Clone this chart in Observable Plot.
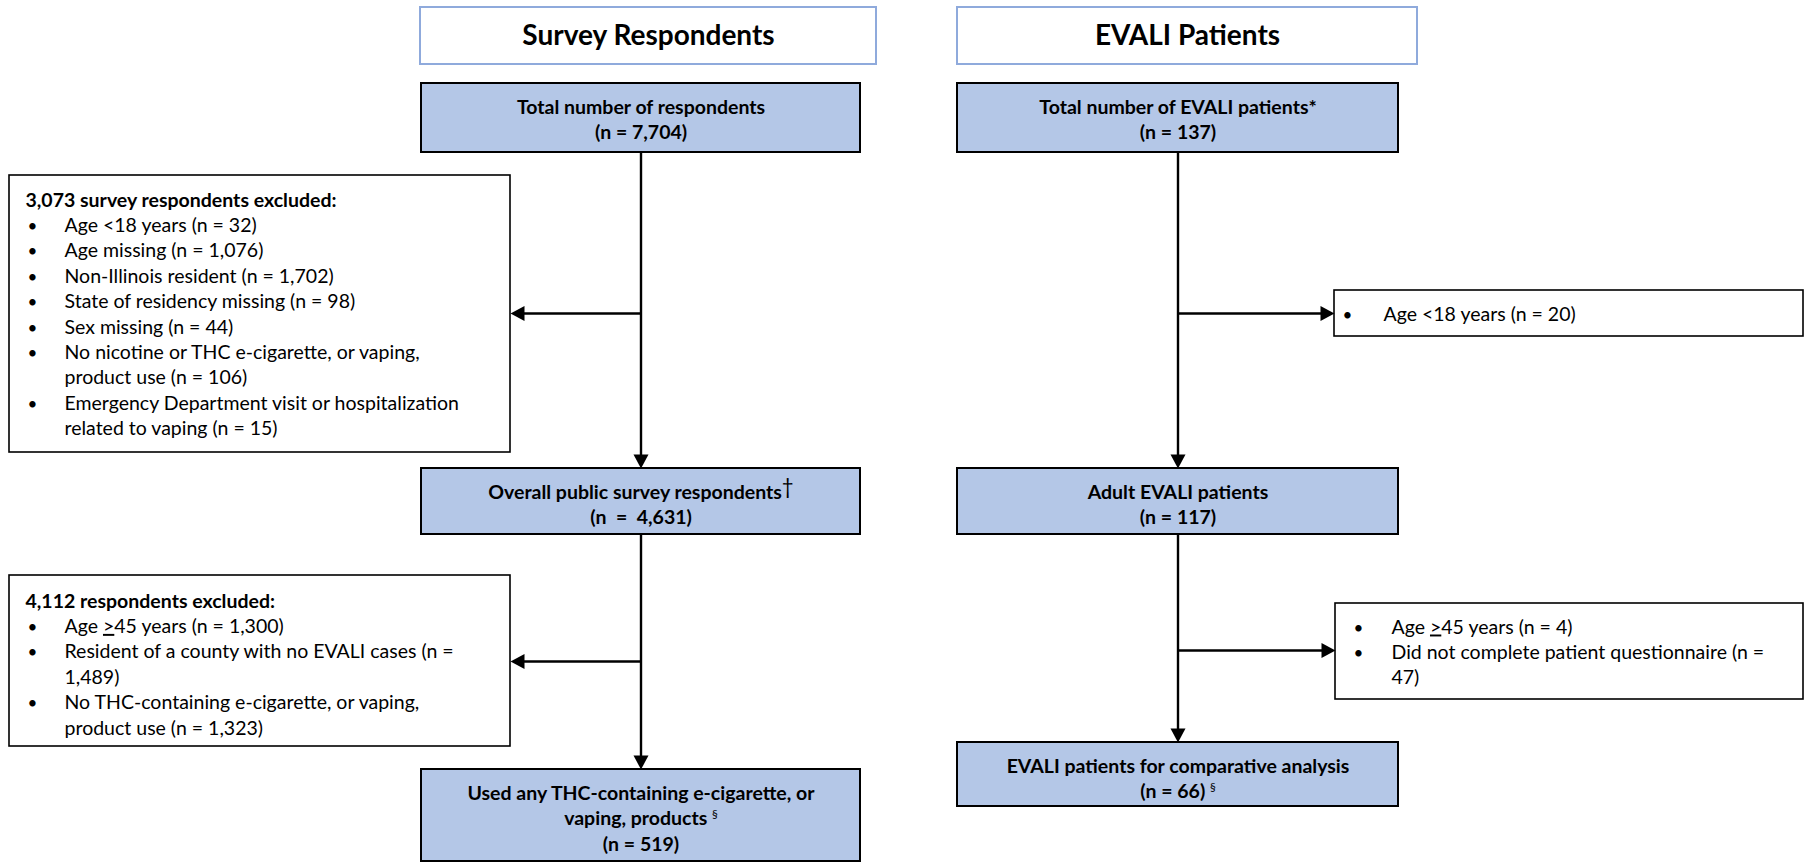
<!DOCTYPE html>
<html>
<head>
<meta charset="utf-8">
<script src="https://cdn.jsdelivr.net/npm/d3@7"></script>
<script src="https://cdn.jsdelivr.net/npm/@observablehq/plot@0.6"></script>
<style>
  html, body { margin: 0; padding: 0; background: #fff; }
  #chart svg { display: block; }
</style>
</head>
<body>
<div id="chart"></div>
<script>
// ---------------- DATA ----------------
const columnTitles = ["Survey Respondents", "EVALI Patients"];

const surveyStages = [
  "Total number of respondents",
  "Overall public survey respondents\u2020",
  "Used any THC-containing e-cigarette, or\nvaping, products \u00a7"
];
const surveyCounts = [7704, 4631, 519];

const evaliStages = [
  "Total number of EVALI patients*",
  "Adult EVALI patients",
  "EVALI patients for comparative analysis"
];
const evaliCounts = [137, 117, 66];
const evaliCountNotes = ["", "", " \u00a7"];

const surveyExcl1Heading = "survey respondents excluded:";
const surveyExcl1Reasons = [
  "Age <18 years",
  "Age missing",
  "Non-Illinois resident",
  "State of residency missing",
  "Sex missing",
  "No nicotine or THC e-cigarette, or vaping, product use",
  "Emergency Department visit or hospitalization related to vaping"
];
const surveyExcl1Counts = [32, 1076, 1702, 98, 44, 106, 15];

const surveyExcl2Heading = "respondents excluded:";
const surveyExcl2Reasons = [
  "Age >45 years",
  "Resident of a county with no EVALI cases",
  "No THC-containing e-cigarette, or vaping, product use"
];
const surveyExcl2Counts = [1300, 1489, 1323];

const evaliExcl1Reasons = ["Age <18 years"];
const evaliExcl1Counts = [20];

const evaliExcl2Reasons = ["Age >45 years", "Did not complete patient questionnaire"];
const evaliExcl2Counts = [4, 47];

// where the original wraps the longer bullet items
const breakBefore = ["product use", "related to", "1,489)", "47)"];

// ---------------- LAYOUT ----------------
const W = 1806, H = 863;
const fmt = d3.format(",");
const FONT = "Lato, 'Open Sans', sans-serif";

const colX = [640.5, 1177.5];
const headerBox = [[420, 876], [957, 1417]];
const headerY = [7, 64];
const stageX = [[421, 860], [957, 1398]];
const stageY = [
  [[83, 152], [468, 534], [769, 861]],
  [[83, 152], [468, 534], [742, 806]]
];
const lineStep = 25.4;
const exclBoxes = [
  {x1: 9, x2: 510, y1: 175, y2: 452, bulletX: 27, textX: 64, headX: 25, first: 206},
  {x1: 9, x2: 510, y1: 575, y2: 746, bulletX: 27, textX: 64, headX: 25, first: 607},
  {x1: 1334, x2: 1803, y1: 290, y2: 336, bulletX: 1342, textX: 1383, first: 320},
  {x1: 1335, x2: 1803, y1: 603, y2: 699, bulletX: 1353, textX: 1391, first: 633}
];
const branchY = [[313, 661], [313, 650]];

// ---------------- BUILD TABLES ----------------
const headerRects = headerBox.map(([x1, x2]) => ({x1, x2, y1: headerY[0], y2: headerY[1]}));
const headerTexts = columnTitles.map((t, i) => ({
  text: t, x: (headerBox[i][0] + headerBox[i][1]) / 2, y: 44
}));

const stageRects = [];
const stageTexts = [];
[[surveyStages, surveyCounts], [evaliStages, evaliCounts]].forEach(([names, counts], c) => {
  names.forEach((name, i) => {
    const [y1, y2] = stageY[c][i];
    const [x1, x2] = stageX[c];
    stageRects.push({x1, x2, y1, y2});
    let countLabel = `(n = ${fmt(counts[i])})`;
    if (c === 0 && i === 1) countLabel = `(n\u00a0 =\u00a0 ${fmt(counts[i])})`;
    if (c === 1) countLabel += evaliCountNotes[i];
    const lines = [...name.split("\n"), countLabel];
    lines.forEach((t, k) => stageTexts.push({text: t, x: (x1 + x2) / 2, y: y1 + 30 + k * 25.5}));
  });
});

function itemLines(reason, count) {
  let s = `${reason} (n = ${fmt(count)})`;
  for (const b of breakBefore) s = s.replace(" " + b, "\n" + b);
  return s.split("\n");
}

const exclRects = exclBoxes.map(({x1, x2, y1, y2}) => ({x1, x2, y1, y2}));
const exclHeads = [];
const exclLines = [];
const bullets = [];
const exclSets = [
  {heading: `${fmt(d3.sum(surveyExcl1Counts))} ${surveyExcl1Heading}`, reasons: surveyExcl1Reasons, counts: surveyExcl1Counts},
  {heading: `${fmt(d3.sum(surveyExcl2Counts))} ${surveyExcl2Heading}`, reasons: surveyExcl2Reasons, counts: surveyExcl2Counts},
  {heading: null, reasons: evaliExcl1Reasons, counts: evaliExcl1Counts},
  {heading: null, reasons: evaliExcl2Reasons, counts: evaliExcl2Counts}
];
exclSets.forEach((set, b) => {
  const box = exclBoxes[b];
  let row = 0;
  if (set.heading) {
    exclHeads.push({text: set.heading, x: box.headX, y: box.first});
    row++;
  }
  set.reasons.forEach((r, i) => {
    const lines = itemLines(r, set.counts[i]);
    bullets.push({text: "\u2022", x: box.bulletX, y: box.first + row * lineStep});
    lines.forEach(t => {
      exclLines.push({text: t, x: box.textX, y: box.first + row * lineStep});
      row++;
    });
  });
});

// connectors and arrow tips
const links = [];
const tips = {down: [], left: [], right: []};
const HEAD = 13;
colX.forEach((x, c) => {
  const st = stageY[c];
  for (let i = 0; i < 2; i++) {
    const yA = st[i][1], yB = st[i + 1][0];
    links.push({x1: x, y1: yA, x2: x, y2: yB - HEAD + 1});
    tips.down.push({x, y: yB});
  }
  branchY[c].forEach((y, i) => {
    const box = exclBoxes[c * 2 + i];
    if (c === 0) {
      links.push({x1: x, y1: y, x2: box.x2 + HEAD - 1, y2: y});
      tips.left.push({x: box.x2, y});
    } else {
      links.push({x1: x, y1: y, x2: box.x1 - HEAD + 1, y2: y});
      tips.right.push({x: box.x1, y});
    }
  });
});

const hw = 7.5, hl = 14;
const triDown = {draw(ctx) { ctx.moveTo(0, 0); ctx.lineTo(-hw, -hl); ctx.lineTo(hw, -hl); ctx.closePath(); }};
const triLeft = {draw(ctx) { ctx.moveTo(0, 0); ctx.lineTo(hl, -hw); ctx.lineTo(hl, hw); ctx.closePath(); }};
const triRight = {draw(ctx) { ctx.moveTo(0, 0); ctx.lineTo(-hl, -hw); ctx.lineTo(-hl, hw); ctx.closePath(); }};

// ---------------- PLOT ----------------
const chart = Plot.plot({
  width: W,
  height: H,
  margin: 0,
  x: {domain: [0, W], range: [0, W], axis: null},
  y: {domain: [0, H], range: [0, H], axis: null},
  style: {background: "white", fontFamily: FONT, color: "black"},
  marks: [
    Plot.rect(headerRects, {x1: "x1", x2: "x2", y1: "y1", y2: "y2", fill: "white", stroke: "#8faadc", strokeWidth: 2}),
    Plot.link(links, {x1: "x1", y1: "y1", x2: "x2", y2: "y2", stroke: "black", strokeWidth: 2.4}),
    Plot.rect(stageRects, {x1: "x1", x2: "x2", y1: "y1", y2: "y2", fill: "#b4c7e7", stroke: "black", strokeWidth: 2}),
    Plot.rect(exclRects, {x1: "x1", x2: "x2", y1: "y1", y2: "y2", fill: "white", stroke: "black", strokeWidth: 1.6}),
    Plot.dot(tips.down, {x: "x", y: "y", symbol: triDown, r: 5, fill: "black", stroke: "none"}),
    Plot.dot(tips.left, {x: "x", y: "y", symbol: triLeft, r: 5, fill: "black", stroke: "none"}),
    Plot.dot(tips.right, {x: "x", y: "y", symbol: triRight, r: 5, fill: "black", stroke: "none"}),
    Plot.text(headerTexts, {x: "x", y: "y", text: "text", fontSize: 28, fontWeight: "bold", textAnchor: "middle", lineAnchor: "bottom", fill: "black"}),
    Plot.text(stageTexts, {x: "x", y: "y", text: "text", fontSize: 19.5, fontWeight: "bold", textAnchor: "middle", lineAnchor: "bottom", fill: "black"}),
    Plot.text(exclHeads, {x: "x", y: "y", text: "text", fontSize: 19.5, fontWeight: "bold", textAnchor: "start", lineAnchor: "bottom", fill: "black"}),
    Plot.text(bullets, {x: "x", y: "y", text: "text", fontSize: 17, textAnchor: "start", lineAnchor: "bottom", fill: "black"}),
    Plot.text(exclLines, {x: "x", y: "y", text: "text", fontSize: 19.5, textAnchor: "start", lineAnchor: "bottom", fill: "black"})
  ]
});

// superscripts and underlined ">" (as in the original)
const NS = "http://www.w3.org/2000/svg";
chart.querySelectorAll("text").forEach(t => {
  const s = t.textContent;
  if (!/[\u2020\u00a7]/.test(s) && !s.includes(">45")) return;
  const parts = s.split(/([\u2020\u00a7]|>(?=45))/);
  t.textContent = "";
  for (const p of parts) {
    if (!p) continue;
    const ts = document.createElementNS(NS, "tspan");
    ts.textContent = p;
    if (p === "\u00a7") {
      ts.setAttribute("font-size", "0.6em");
      ts.setAttribute("font-weight", "normal");
      ts.setAttribute("baseline-shift", "55%");
    } else if (p === "\u2020") {
      ts.setAttribute("font-size", "1.05em");
      ts.setAttribute("font-weight", "normal");
      ts.setAttribute("baseline-shift", "25%");
    } else if (p === ">") {
      ts.setAttribute("text-decoration", "underline");
    }
    t.appendChild(ts);
  }
});

document.getElementById("chart").appendChild(chart);
</script>
</body>
</html>
